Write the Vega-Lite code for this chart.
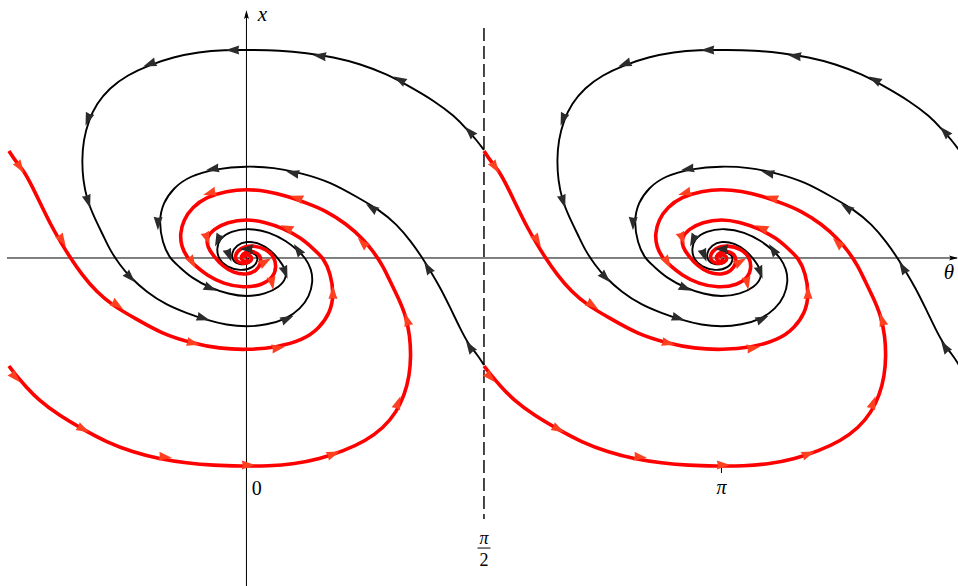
{
"$schema": "https://vega.github.io/schema/vega-lite/v6.json",
"width": 958, "height": 586, "autosize": "none", "padding": 0,
"background": "white",
"config": {"view": {"stroke": null}},
"datasets": {
"blk": [
{"c":"B1L","t":1.571,"x":0.714},{"c":"B1L","t":1.521,"x":0.780},{"c":"B1L","t":1.462,"x":0.847},{"c":"B1L","t":1.376,"x":0.939},{"c":"B1L","t":1.243,"x":1.038},{"c":"B1L","t":1.085,"x":1.131},{"c":"B1L","t":0.926,"x":1.217},{"c":"B1L","t":0.754,"x":1.283},{"c":"B1L","t":0.575,"x":1.329},{"c":"B1L","t":0.397,"x":1.356},{"c":"B1L","t":0.218,"x":1.372},{"c":"B1L","t":0.033,"x":1.376},{"c":"B1L","t":-0.146,"x":1.376},{"c":"B1L","t":-0.317,"x":1.362},{"c":"B1L","t":-0.483,"x":1.329},{"c":"B1L","t":-0.642,"x":1.276},{"c":"B1L","t":-0.787,"x":1.210},{"c":"B1L","t":-0.906,"x":1.124},{"c":"B1L","t":-0.992,"x":1.019},{"c":"B1L","t":-1.045,"x":0.906},{"c":"B1L","t":-1.078,"x":0.780},{"c":"B1L","t":-1.088,"x":0.648},{"c":"B1L","t":-1.081,"x":0.516},{"c":"B1L","t":-1.055,"x":0.384},{"c":"B1L","t":-1.005,"x":0.265},{"c":"B1L","t":-0.946,"x":0.146},{"c":"B1L","t":-0.903,"x":0.053},{"c":"B1L","t":-0.837,"x":-0.046},{"c":"B1L","t":-0.771,"x":-0.126},{"c":"B1L","t":-0.661,"x":-0.225},{"c":"B1L","t":-0.529,"x":-0.311},{"c":"B1L","t":-0.397,"x":-0.364},{"c":"B1L","t":-0.265,"x":-0.410},{"c":"B1L","t":-0.132,"x":-0.443},{"c":"B1L","t":0,"x":-0.456},{"c":"B1L","t":0.132,"x":-0.443},{"c":"B1L","t":0.265,"x":-0.403},{"c":"B1L","t":0.357,"x":-0.337},{"c":"B1L","t":0.417,"x":-0.251},{"c":"B1L","t":0.440,"x":-0.159},{"c":"B1L","t":0.430,"x":-0.073},{"c":"B1L","t":0.390,"x":0},{"c":"B1L","t":0.337,"x":0.053},{"c":"B1L","t":0.265,"x":0.112},{"c":"B1L","t":0.152,"x":0.172},{"c":"B1L","t":0.020,"x":0.198},{"c":"B1L","t":-0.106,"x":0.179},{"c":"B1L","t":-0.179,"x":0.126},{"c":"B1L","t":-0.198,"x":0.060},{"c":"B1L","t":-0.185,"x":-0.007},{"c":"B1L","t":-0.132,"x":-0.060},{"c":"B1L","t":-0.040,"x":-0.086},{"c":"B1L","t":0.046,"x":-0.066},{"c":"B1L","t":0.079,"x":-0.013},{"c":"B1L","t":0.066,"x":0.026},{"c":"B1L","t":0.013,"x":0.040},{"c":"B1L","t":-0.026,"x":0.026},{"c":"B1L","t":-0.040,"x":0},{"c":"B1L","t":-0.020,"x":-0.020},{"c":"B1L","t":0.007,"x":-0.020},{"c":"B1L","t":0.013,"x":0},
{"c":"B2L","t":1.571,"x":-0.708},{"c":"B2L","t":1.524,"x":-0.635},{"c":"B2L","t":1.475,"x":-0.582},{"c":"B2L","t":1.415,"x":-0.470},{"c":"B2L","t":1.349,"x":-0.331},{"c":"B2L","t":1.283,"x":-0.198},{"c":"B2L","t":1.217,"x":-0.086},{"c":"B2L","t":1.164,"x":0},{"c":"B2L","t":1.091,"x":0.106},{"c":"B2L","t":0.992,"x":0.225},{"c":"B2L","t":0.880,"x":0.317},{"c":"B2L","t":0.741,"x":0.397},{"c":"B2L","t":0.556,"x":0.503},{"c":"B2L","t":0.364,"x":0.562},{"c":"B2L","t":0.179,"x":0.599},{"c":"B2L","t":0,"x":0.608},{"c":"B2L","t":-0.198,"x":0.592},{"c":"B2L","t":-0.377,"x":0.542},{"c":"B2L","t":-0.483,"x":0.463},{"c":"B2L","t":-0.552,"x":0.364},{"c":"B2L","t":-0.579,"x":0.245},{"c":"B2L","t":-0.556,"x":0.099},{"c":"B2L","t":-0.509,"x":0},{"c":"B2L","t":-0.450,"x":-0.053},{"c":"B2L","t":-0.364,"x":-0.132},{"c":"B2L","t":-0.238,"x":-0.198},{"c":"B2L","t":-0.119,"x":-0.238},{"c":"B2L","t":0,"x":-0.258},{"c":"B2L","t":0.126,"x":-0.238},{"c":"B2L","t":0.218,"x":-0.192},{"c":"B2L","t":0.265,"x":-0.132},{"c":"B2L","t":0.258,"x":-0.073},{"c":"B2L","t":0.218,"x":-0.013},{"c":"B2L","t":0.159,"x":0.053},{"c":"B2L","t":0.086,"x":0.099},{"c":"B2L","t":0,"x":0.112},{"c":"B2L","t":-0.066,"x":0.086},{"c":"B2L","t":-0.099,"x":0.033},{"c":"B2L","t":-0.093,"x":-0.020},{"c":"B2L","t":-0.046,"x":-0.046},{"c":"B2L","t":0.013,"x":-0.040},{"c":"B2L","t":0.040,"x":-0.007},{"c":"B2L","t":0.026,"x":0.020},{"c":"B2L","t":0,"x":0.023},{"c":"B2L","t":-0.013,"x":0.007},
{"c":"B1R","t":4.713,"x":0.714},{"c":"B1R","t":4.663,"x":0.780},{"c":"B1R","t":4.604,"x":0.847},{"c":"B1R","t":4.518,"x":0.939},{"c":"B1R","t":4.385,"x":1.038},{"c":"B1R","t":4.227,"x":1.131},{"c":"B1R","t":4.068,"x":1.217},{"c":"B1R","t":3.896,"x":1.283},{"c":"B1R","t":3.717,"x":1.329},{"c":"B1R","t":3.539,"x":1.356},{"c":"B1R","t":3.360,"x":1.372},{"c":"B1R","t":3.175,"x":1.376},{"c":"B1R","t":2.996,"x":1.376},{"c":"B1R","t":2.825,"x":1.362},{"c":"B1R","t":2.659,"x":1.329},{"c":"B1R","t":2.500,"x":1.276},{"c":"B1R","t":2.355,"x":1.210},{"c":"B1R","t":2.236,"x":1.124},{"c":"B1R","t":2.150,"x":1.019},{"c":"B1R","t":2.097,"x":0.906},{"c":"B1R","t":2.064,"x":0.780},{"c":"B1R","t":2.054,"x":0.648},{"c":"B1R","t":2.061,"x":0.516},{"c":"B1R","t":2.087,"x":0.384},{"c":"B1R","t":2.137,"x":0.265},{"c":"B1R","t":2.196,"x":0.146},{"c":"B1R","t":2.239,"x":0.053},{"c":"B1R","t":2.305,"x":-0.046},{"c":"B1R","t":2.371,"x":-0.126},{"c":"B1R","t":2.481,"x":-0.225},{"c":"B1R","t":2.613,"x":-0.311},{"c":"B1R","t":2.745,"x":-0.364},{"c":"B1R","t":2.877,"x":-0.410},{"c":"B1R","t":3.010,"x":-0.443},{"c":"B1R","t":3.142,"x":-0.456},{"c":"B1R","t":3.274,"x":-0.443},{"c":"B1R","t":3.407,"x":-0.403},{"c":"B1R","t":3.499,"x":-0.337},{"c":"B1R","t":3.559,"x":-0.251},{"c":"B1R","t":3.582,"x":-0.159},{"c":"B1R","t":3.572,"x":-0.073},{"c":"B1R","t":3.532,"x":0},{"c":"B1R","t":3.479,"x":0.053},{"c":"B1R","t":3.407,"x":0.112},{"c":"B1R","t":3.294,"x":0.172},{"c":"B1R","t":3.162,"x":0.198},{"c":"B1R","t":3.036,"x":0.179},{"c":"B1R","t":2.963,"x":0.126},{"c":"B1R","t":2.944,"x":0.060},{"c":"B1R","t":2.957,"x":-0.007},{"c":"B1R","t":3.010,"x":-0.060},{"c":"B1R","t":3.102,"x":-0.086},{"c":"B1R","t":3.188,"x":-0.066},{"c":"B1R","t":3.221,"x":-0.013},{"c":"B1R","t":3.208,"x":0.026},{"c":"B1R","t":3.155,"x":0.040},{"c":"B1R","t":3.116,"x":0.026},{"c":"B1R","t":3.102,"x":0},{"c":"B1R","t":3.122,"x":-0.020},{"c":"B1R","t":3.149,"x":-0.020},{"c":"B1R","t":3.155,"x":0},
{"c":"B2R","t":4.713,"x":-0.708},{"c":"B2R","t":4.666,"x":-0.635},{"c":"B2R","t":4.617,"x":-0.582},{"c":"B2R","t":4.557,"x":-0.470},{"c":"B2R","t":4.491,"x":-0.331},{"c":"B2R","t":4.425,"x":-0.198},{"c":"B2R","t":4.359,"x":-0.086},{"c":"B2R","t":4.306,"x":0},{"c":"B2R","t":4.233,"x":0.106},{"c":"B2R","t":4.134,"x":0.225},{"c":"B2R","t":4.022,"x":0.317},{"c":"B2R","t":3.883,"x":0.397},{"c":"B2R","t":3.698,"x":0.503},{"c":"B2R","t":3.506,"x":0.562},{"c":"B2R","t":3.321,"x":0.599},{"c":"B2R","t":3.142,"x":0.608},{"c":"B2R","t":2.944,"x":0.592},{"c":"B2R","t":2.765,"x":0.542},{"c":"B2R","t":2.659,"x":0.463},{"c":"B2R","t":2.590,"x":0.364},{"c":"B2R","t":2.563,"x":0.245},{"c":"B2R","t":2.586,"x":0.099},{"c":"B2R","t":2.633,"x":0},{"c":"B2R","t":2.692,"x":-0.053},{"c":"B2R","t":2.778,"x":-0.132},{"c":"B2R","t":2.904,"x":-0.198},{"c":"B2R","t":3.023,"x":-0.238},{"c":"B2R","t":3.142,"x":-0.258},{"c":"B2R","t":3.268,"x":-0.238},{"c":"B2R","t":3.360,"x":-0.192},{"c":"B2R","t":3.407,"x":-0.132},{"c":"B2R","t":3.400,"x":-0.073},{"c":"B2R","t":3.360,"x":-0.013},{"c":"B2R","t":3.301,"x":0.053},{"c":"B2R","t":3.228,"x":0.099},{"c":"B2R","t":3.142,"x":0.112},{"c":"B2R","t":3.076,"x":0.086},{"c":"B2R","t":3.043,"x":0.033},{"c":"B2R","t":3.049,"x":-0.020},{"c":"B2R","t":3.096,"x":-0.046},{"c":"B2R","t":3.155,"x":-0.040},{"c":"B2R","t":3.182,"x":-0.007},{"c":"B2R","t":3.168,"x":0.020},{"c":"B2R","t":3.142,"x":0.023},{"c":"B2R","t":3.129,"x":0.007}
],
"red": [
{"c":"R1L","t":-1.571,"x":0.708},{"c":"R1L","t":-1.524,"x":0.635},{"c":"R1L","t":-1.475,"x":0.582},{"c":"R1L","t":-1.415,"x":0.470},{"c":"R1L","t":-1.349,"x":0.331},{"c":"R1L","t":-1.283,"x":0.198},{"c":"R1L","t":-1.217,"x":0.086},{"c":"R1L","t":-1.164,"x":0},{"c":"R1L","t":-1.091,"x":-0.106},{"c":"R1L","t":-0.992,"x":-0.225},{"c":"R1L","t":-0.880,"x":-0.317},{"c":"R1L","t":-0.741,"x":-0.397},{"c":"R1L","t":-0.556,"x":-0.503},{"c":"R1L","t":-0.364,"x":-0.562},{"c":"R1L","t":-0.179,"x":-0.599},{"c":"R1L","t":0,"x":-0.608},{"c":"R1L","t":0.198,"x":-0.592},{"c":"R1L","t":0.377,"x":-0.542},{"c":"R1L","t":0.483,"x":-0.463},{"c":"R1L","t":0.552,"x":-0.364},{"c":"R1L","t":0.579,"x":-0.245},{"c":"R1L","t":0.556,"x":-0.099},{"c":"R1L","t":0.509,"x":0},{"c":"R1L","t":0.450,"x":0.053},{"c":"R1L","t":0.364,"x":0.132},{"c":"R1L","t":0.238,"x":0.198},{"c":"R1L","t":0.119,"x":0.238},{"c":"R1L","t":0,"x":0.258},{"c":"R1L","t":-0.126,"x":0.238},{"c":"R1L","t":-0.218,"x":0.192},{"c":"R1L","t":-0.265,"x":0.132},{"c":"R1L","t":-0.258,"x":0.073},{"c":"R1L","t":-0.218,"x":0.013},{"c":"R1L","t":-0.159,"x":-0.053},{"c":"R1L","t":-0.086,"x":-0.099},{"c":"R1L","t":0,"x":-0.112},{"c":"R1L","t":0.066,"x":-0.086},{"c":"R1L","t":0.099,"x":-0.033},{"c":"R1L","t":0.093,"x":0.020},{"c":"R1L","t":0.046,"x":0.046},{"c":"R1L","t":-0.013,"x":0.040},{"c":"R1L","t":-0.040,"x":0.007},{"c":"R1L","t":-0.026,"x":-0.020},{"c":"R1L","t":0,"x":-0.023},{"c":"R1L","t":0.013,"x":-0.007},
{"c":"R2L","t":-1.571,"x":-0.714},{"c":"R2L","t":-1.521,"x":-0.780},{"c":"R2L","t":-1.462,"x":-0.847},{"c":"R2L","t":-1.376,"x":-0.939},{"c":"R2L","t":-1.243,"x":-1.038},{"c":"R2L","t":-1.085,"x":-1.131},{"c":"R2L","t":-0.926,"x":-1.217},{"c":"R2L","t":-0.754,"x":-1.283},{"c":"R2L","t":-0.575,"x":-1.329},{"c":"R2L","t":-0.397,"x":-1.356},{"c":"R2L","t":-0.218,"x":-1.372},{"c":"R2L","t":-0.033,"x":-1.376},{"c":"R2L","t":0.146,"x":-1.376},{"c":"R2L","t":0.317,"x":-1.362},{"c":"R2L","t":0.483,"x":-1.329},{"c":"R2L","t":0.642,"x":-1.276},{"c":"R2L","t":0.787,"x":-1.210},{"c":"R2L","t":0.906,"x":-1.124},{"c":"R2L","t":0.992,"x":-1.019},{"c":"R2L","t":1.045,"x":-0.906},{"c":"R2L","t":1.078,"x":-0.780},{"c":"R2L","t":1.088,"x":-0.648},{"c":"R2L","t":1.081,"x":-0.516},{"c":"R2L","t":1.055,"x":-0.384},{"c":"R2L","t":1.005,"x":-0.265},{"c":"R2L","t":0.946,"x":-0.146},{"c":"R2L","t":0.903,"x":-0.053},{"c":"R2L","t":0.837,"x":0.046},{"c":"R2L","t":0.771,"x":0.126},{"c":"R2L","t":0.661,"x":0.225},{"c":"R2L","t":0.529,"x":0.311},{"c":"R2L","t":0.397,"x":0.364},{"c":"R2L","t":0.265,"x":0.410},{"c":"R2L","t":0.132,"x":0.443},{"c":"R2L","t":0,"x":0.456},{"c":"R2L","t":-0.132,"x":0.443},{"c":"R2L","t":-0.265,"x":0.403},{"c":"R2L","t":-0.357,"x":0.337},{"c":"R2L","t":-0.417,"x":0.251},{"c":"R2L","t":-0.440,"x":0.159},{"c":"R2L","t":-0.430,"x":0.073},{"c":"R2L","t":-0.390,"x":0},{"c":"R2L","t":-0.337,"x":-0.053},{"c":"R2L","t":-0.265,"x":-0.112},{"c":"R2L","t":-0.152,"x":-0.172},{"c":"R2L","t":-0.020,"x":-0.198},{"c":"R2L","t":0.106,"x":-0.179},{"c":"R2L","t":0.179,"x":-0.126},{"c":"R2L","t":0.198,"x":-0.060},{"c":"R2L","t":0.185,"x":0.007},{"c":"R2L","t":0.132,"x":0.060},{"c":"R2L","t":0.040,"x":0.086},{"c":"R2L","t":-0.046,"x":0.066},{"c":"R2L","t":-0.079,"x":0.013},{"c":"R2L","t":-0.066,"x":-0.026},{"c":"R2L","t":-0.013,"x":-0.040},{"c":"R2L","t":0.026,"x":-0.026},{"c":"R2L","t":0.040,"x":0},{"c":"R2L","t":0.020,"x":0.020},{"c":"R2L","t":-0.007,"x":0.020},{"c":"R2L","t":-0.013,"x":0},
{"c":"R1R","t":1.571,"x":0.708},{"c":"R1R","t":1.618,"x":0.635},{"c":"R1R","t":1.667,"x":0.582},{"c":"R1R","t":1.727,"x":0.470},{"c":"R1R","t":1.793,"x":0.331},{"c":"R1R","t":1.859,"x":0.198},{"c":"R1R","t":1.925,"x":0.086},{"c":"R1R","t":1.978,"x":0},{"c":"R1R","t":2.051,"x":-0.106},{"c":"R1R","t":2.150,"x":-0.225},{"c":"R1R","t":2.262,"x":-0.317},{"c":"R1R","t":2.401,"x":-0.397},{"c":"R1R","t":2.586,"x":-0.503},{"c":"R1R","t":2.778,"x":-0.562},{"c":"R1R","t":2.963,"x":-0.599},{"c":"R1R","t":3.142,"x":-0.608},{"c":"R1R","t":3.340,"x":-0.592},{"c":"R1R","t":3.519,"x":-0.542},{"c":"R1R","t":3.625,"x":-0.463},{"c":"R1R","t":3.694,"x":-0.364},{"c":"R1R","t":3.721,"x":-0.245},{"c":"R1R","t":3.698,"x":-0.099},{"c":"R1R","t":3.651,"x":0},{"c":"R1R","t":3.592,"x":0.053},{"c":"R1R","t":3.506,"x":0.132},{"c":"R1R","t":3.380,"x":0.198},{"c":"R1R","t":3.261,"x":0.238},{"c":"R1R","t":3.142,"x":0.258},{"c":"R1R","t":3.016,"x":0.238},{"c":"R1R","t":2.924,"x":0.192},{"c":"R1R","t":2.877,"x":0.132},{"c":"R1R","t":2.884,"x":0.073},{"c":"R1R","t":2.924,"x":0.013},{"c":"R1R","t":2.983,"x":-0.053},{"c":"R1R","t":3.056,"x":-0.099},{"c":"R1R","t":3.142,"x":-0.112},{"c":"R1R","t":3.208,"x":-0.086},{"c":"R1R","t":3.241,"x":-0.033},{"c":"R1R","t":3.235,"x":0.020},{"c":"R1R","t":3.188,"x":0.046},{"c":"R1R","t":3.129,"x":0.040},{"c":"R1R","t":3.102,"x":0.007},{"c":"R1R","t":3.116,"x":-0.020},{"c":"R1R","t":3.142,"x":-0.023},{"c":"R1R","t":3.155,"x":-0.007},
{"c":"R2R","t":1.571,"x":-0.714},{"c":"R2R","t":1.621,"x":-0.780},{"c":"R2R","t":1.680,"x":-0.847},{"c":"R2R","t":1.766,"x":-0.939},{"c":"R2R","t":1.899,"x":-1.038},{"c":"R2R","t":2.057,"x":-1.131},{"c":"R2R","t":2.216,"x":-1.217},{"c":"R2R","t":2.388,"x":-1.283},{"c":"R2R","t":2.567,"x":-1.329},{"c":"R2R","t":2.745,"x":-1.356},{"c":"R2R","t":2.924,"x":-1.372},{"c":"R2R","t":3.109,"x":-1.376},{"c":"R2R","t":3.288,"x":-1.376},{"c":"R2R","t":3.459,"x":-1.362},{"c":"R2R","t":3.625,"x":-1.329},{"c":"R2R","t":3.784,"x":-1.276},{"c":"R2R","t":3.929,"x":-1.210},{"c":"R2R","t":4.048,"x":-1.124},{"c":"R2R","t":4.134,"x":-1.019},{"c":"R2R","t":4.187,"x":-0.906},{"c":"R2R","t":4.220,"x":-0.780},{"c":"R2R","t":4.230,"x":-0.648},{"c":"R2R","t":4.223,"x":-0.516},{"c":"R2R","t":4.197,"x":-0.384},{"c":"R2R","t":4.147,"x":-0.265},{"c":"R2R","t":4.088,"x":-0.146},{"c":"R2R","t":4.045,"x":-0.053},{"c":"R2R","t":3.979,"x":0.046},{"c":"R2R","t":3.913,"x":0.126},{"c":"R2R","t":3.803,"x":0.225},{"c":"R2R","t":3.671,"x":0.311},{"c":"R2R","t":3.539,"x":0.364},{"c":"R2R","t":3.407,"x":0.410},{"c":"R2R","t":3.274,"x":0.443},{"c":"R2R","t":3.142,"x":0.456},{"c":"R2R","t":3.010,"x":0.443},{"c":"R2R","t":2.877,"x":0.403},{"c":"R2R","t":2.785,"x":0.337},{"c":"R2R","t":2.725,"x":0.251},{"c":"R2R","t":2.702,"x":0.159},{"c":"R2R","t":2.712,"x":0.073},{"c":"R2R","t":2.752,"x":0},{"c":"R2R","t":2.805,"x":-0.053},{"c":"R2R","t":2.877,"x":-0.112},{"c":"R2R","t":2.990,"x":-0.172},{"c":"R2R","t":3.122,"x":-0.198},{"c":"R2R","t":3.248,"x":-0.179},{"c":"R2R","t":3.321,"x":-0.126},{"c":"R2R","t":3.340,"x":-0.060},{"c":"R2R","t":3.327,"x":0.007},{"c":"R2R","t":3.274,"x":0.060},{"c":"R2R","t":3.182,"x":0.086},{"c":"R2R","t":3.096,"x":0.066},{"c":"R2R","t":3.063,"x":0.013},{"c":"R2R","t":3.076,"x":-0.026},{"c":"R2R","t":3.129,"x":-0.040},{"c":"R2R","t":3.168,"x":-0.026},{"c":"R2R","t":3.182,"x":0},{"c":"R2R","t":3.162,"x":0.020},{"c":"R2R","t":3.135,"x":0.020},{"c":"R2R","t":3.129,"x":0}
],
"arr": [
{"k":"b","t":1.478,"x":0.833,"a":317},{"k":"b","t":1.015,"x":1.177,"a":298},{"k":"b","t":0.486,"x":1.336,"a":278},{"k":"b","t":-0.089,"x":1.376,"a":270},{"k":"b","t":-0.638,"x":1.283,"a":249},{"k":"b","t":-1.048,"x":0.919,"a":200},{"k":"b","t":-1.048,"x":0.377,"a":163},{"k":"b","t":-0.770,"x":-0.126,"a":136},{"k":"b","t":-0.288,"x":-0.397,"a":107},{"k":"b","t":0.268,"x":-0.403,"a":65},{"k":"b","t":0.341,"x":0.053,"a":325},{"k":"b","t":-0.188,"x":0.119,"a":205},
{"k":"b","t":1.478,"x":-0.589,"a":327},{"k":"b","t":1.200,"x":-0.066,"a":329},{"k":"b","t":0.830,"x":0.331,"a":304},{"k":"b","t":0.308,"x":0.562,"a":284},{"k":"b","t":-0.222,"x":0.589,"a":260},{"k":"b","t":-0.585,"x":0.231,"a":181},{"k":"b","t":-0.241,"x":-0.198,"a":113},{"k":"b","t":0.255,"x":-0.093,"a":160},{"k":"b","t":-0.116,"x":0.020,"a":160},{"k":"b","t":0.003,"x":0.060,"a":270},
{"k":"b","t":4.620,"x":0.833,"a":317},{"k":"b","t":4.157,"x":1.177,"a":298},{"k":"b","t":3.628,"x":1.336,"a":278},{"k":"b","t":3.053,"x":1.376,"a":270},{"k":"b","t":2.504,"x":1.283,"a":249},{"k":"b","t":2.094,"x":0.919,"a":200},{"k":"b","t":2.094,"x":0.377,"a":163},{"k":"b","t":2.372,"x":-0.126,"a":136},{"k":"b","t":2.854,"x":-0.397,"a":107},{"k":"b","t":3.410,"x":-0.403,"a":65},{"k":"b","t":3.483,"x":0.053,"a":325},{"k":"b","t":2.954,"x":0.119,"a":205},
{"k":"b","t":4.620,"x":-0.589,"a":327},{"k":"b","t":4.342,"x":-0.066,"a":329},{"k":"b","t":3.972,"x":0.331,"a":304},{"k":"b","t":3.450,"x":0.562,"a":284},{"k":"b","t":2.920,"x":0.589,"a":260},{"k":"b","t":2.557,"x":0.231,"a":181},{"k":"b","t":2.901,"x":-0.198,"a":113},{"k":"b","t":3.397,"x":-0.093,"a":160},{"k":"b","t":3.026,"x":0.020,"a":160},{"k":"b","t":3.145,"x":0.060,"a":270},
{"k":"r","t":-1.498,"x":0.602,"a":147},{"k":"r","t":-1.220,"x":0.119,"a":149},{"k":"r","t":-0.856,"x":-0.311,"a":124},{"k":"r","t":-0.354,"x":-0.562,"a":104},{"k":"r","t":0.208,"x":-0.595,"a":80},{"k":"r","t":0.572,"x":-0.231,"a":0},{"k":"r","t":0.268,"x":0.198,"a":293},{"k":"r","t":-0.261,"x":0.132,"a":159},
{"k":"r","t":-1.531,"x":-0.787,"a":137},{"k":"r","t":-1.081,"x":-1.131,"a":118},{"k":"r","t":-0.539,"x":-1.316,"a":98},{"k":"r","t":0.010,"x":-1.369,"a":90},{"k":"r","t":0.572,"x":-1.296,"a":69},{"k":"r","t":1.002,"x":-0.959,"a":20},{"k":"r","t":1.062,"x":-0.410,"a":343},{"k":"r","t":0.770,"x":0.099,"a":315},{"k":"r","t":0.334,"x":0.397,"a":287},{"k":"r","t":-0.241,"x":0.430,"a":253},{"k":"r","t":-0.360,"x":-0.026,"a":150},{"k":"r","t":0.169,"x":-0.165,"a":170},{"k":"r","t":0.122,"x":-0.026,"a":60},
{"k":"r","t":1.644,"x":0.602,"a":147},{"k":"r","t":1.922,"x":0.119,"a":149},{"k":"r","t":2.286,"x":-0.311,"a":124},{"k":"r","t":2.788,"x":-0.562,"a":104},{"k":"r","t":3.350,"x":-0.595,"a":80},{"k":"r","t":3.714,"x":-0.231,"a":0},{"k":"r","t":3.410,"x":0.198,"a":293},{"k":"r","t":2.881,"x":0.132,"a":159},
{"k":"r","t":1.611,"x":-0.787,"a":137},{"k":"r","t":2.061,"x":-1.131,"a":118},{"k":"r","t":2.603,"x":-1.316,"a":98},{"k":"r","t":3.152,"x":-1.369,"a":90},{"k":"r","t":3.714,"x":-1.296,"a":69},{"k":"r","t":4.144,"x":-0.959,"a":20},{"k":"r","t":4.204,"x":-0.410,"a":343},{"k":"r","t":3.912,"x":0.099,"a":315},{"k":"r","t":3.476,"x":0.397,"a":287},{"k":"r","t":2.901,"x":0.430,"a":253},{"k":"r","t":2.782,"x":-0.026,"a":150},{"k":"r","t":3.311,"x":-0.165,"a":170},{"k":"r","t":3.264,"x":-0.026,"a":60}
]
},
"encoding": {
"x": {"field":"t","type":"quantitative","scale":{"domain":[-1.63,4.706],"nice":false,"zero":false},"axis":null},
"y": {"field":"x","type":"quantitative","scale":{"domain":[-2.169,1.706],"nice":false,"zero":false},"axis":null}
},
"layer": [
{"data":{"values":[{"t":-1.584,"te":4.70,"x":0,"xe":0},{"t":0,"te":0,"x":1.62,"xe":-2.2},{"t":3.1416,"te":3.1416,"x":-1.376,"xe":-1.422},{"t":1.528,"te":1.614,"x":-1.918,"xe":-1.918}]},
 "mark":{"type":"rule","color":"#000","strokeWidth":1},
 "encoding":{"x2":{"field":"te"},"y2":{"field":"xe"}}},
{"data":{"values":[{"t":1.5708,"te":1.5708,"x":1.521,"xe":-1.726}]},
 "mark":{"type":"rule","color":"#333","strokeWidth":1.8,"strokeDash":[13,5]},
 "encoding":{"x2":{"field":"te"},"y2":{"field":"xe"}}},
{"data":{"values":[{"t":4.676,"x":0,"a":90},{"t":0,"x":1.610,"a":0}]},
 "mark":{"type":"point","filled":true,"shape":"M0,-1L0.55,1L0,0.6L-0.55,1Z","size":80,"color":"#000","opacity":1,"strokeWidth":0},
 "encoding":{"angle":{"field":"a","type":"quantitative","scale":null}}},
{"data":{"name":"blk"},
 "mark":{"type":"line","color":"#000","strokeWidth":1.9,"interpolate":"basis"},
 "encoding":{"detail":{"field":"c"},"order":{"value":null}}},
{"data":{"name":"red"},
 "mark":{"type":"line","color":"#ff0000","strokeWidth":3.6,"interpolate":"basis"},
 "encoding":{"detail":{"field":"c"},"order":{"value":null}}},
{"data":{"name":"arr"},"transform":[{"filter":"datum.k == 'b'"}],
 "mark":{"type":"point","filled":true,"shape":"M0,-1L0.62,0.85L0,0.72L-0.62,0.85Z","size":210,"color":"#2b2b2b","opacity":1,"strokeWidth":0},
 "encoding":{"angle":{"field":"a","type":"quantitative","scale":null}}},
{"data":{"name":"arr"},"transform":[{"filter":"datum.k == 'r'"}],
 "mark":{"type":"point","filled":true,"shape":"M0,-1L0.62,0.85L0,0.72L-0.62,0.85Z","size":210,"color":"#ff4020","opacity":1,"strokeWidth":0},
 "encoding":{"angle":{"field":"a","type":"quantitative","scale":null}}},
{"data":{"values":[{"t":0.068,"x":-1.528,"s":"0"}]},
 "mark":{"type":"text","font":"Liberation Serif","fontSize":20,"color":"#000","align":"center","baseline":"middle"},
 "encoding":{"text":{"field":"s"}}},
{"data":{"values":[{"t":3.1416,"x":-1.52,"s":"π"}]},
 "mark":{"type":"text","font":"Liberation Serif","fontSize":20,"fontStyle":"italic","color":"#000","align":"center","baseline":"middle"},
 "encoding":{"text":{"field":"s"}}},
{"data":{"values":[{"t":1.5708,"x":-1.855,"s":"π"}]},
 "mark":{"type":"text","font":"Liberation Serif","fontSize":18,"fontStyle":"italic","color":"#000","align":"center","baseline":"middle"},
 "encoding":{"text":{"field":"s"}}},
{"data":{"values":[{"t":1.5708,"x":-2.004,"s":"2"}]},
 "mark":{"type":"text","font":"Liberation Serif","fontSize":18,"color":"#000","align":"center","baseline":"middle"},
 "encoding":{"text":{"field":"s"}}},
{"data":{"values":[{"t":0.105,"x":1.607,"s":"x"},{"t":4.646,"x":-0.099,"s":"θ"}]},
 "mark":{"type":"text","font":"Liberation Serif","fontSize":21,"fontStyle":"italic","color":"#000","align":"center","baseline":"middle"},
 "encoding":{"text":{"field":"s"}}}
]
}
